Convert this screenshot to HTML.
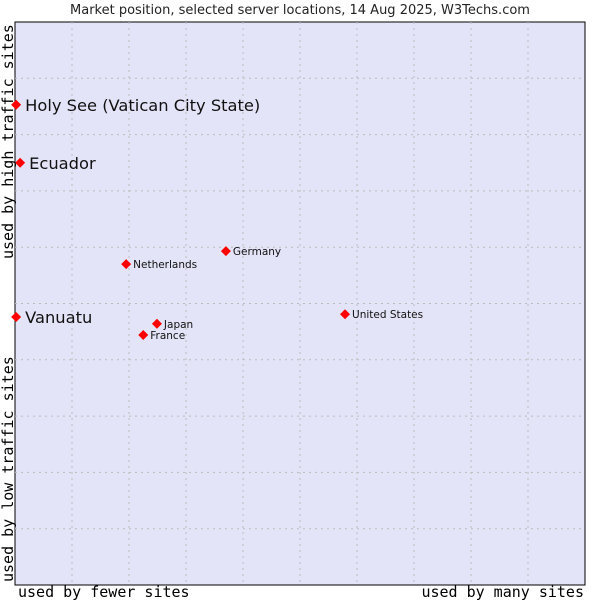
<!DOCTYPE html>
<html><head><meta charset="utf-8"><style>
body{margin:0;background:#fff;}
svg{display:block;font-family:"DejaVu Sans","Liberation Sans",sans-serif;}
</style></head><body>
<svg id="chart" width="600" height="600">
<text x="300" y="14" text-anchor="middle" font-size="13" fill="#222">Market position, selected server locations, 14 Aug 2025, W3Techs.com</text>
<rect x="15" y="22" width="570" height="563" fill="#e4e4f8" stroke="#000" stroke-width="1"/>
<g id="grid"></g>
<g id="points"></g>
<text x="18" y="597" font-family="DejaVu Sans Mono,Liberation Mono,monospace" font-size="15" fill="#000">used by fewer sites</text>
<text x="584" y="597" text-anchor="end" font-family="DejaVu Sans Mono,Liberation Mono,monospace" font-size="15" fill="#000">used by many sites</text>
<text transform="translate(13,582) rotate(-90)" font-family="DejaVu Sans Mono,Liberation Mono,monospace" font-size="15" fill="#000">used by low traffic sites</text>
<text transform="translate(13,259) rotate(-90)" font-family="DejaVu Sans Mono,Liberation Mono,monospace" font-size="15" fill="#000">used by high traffic sites</text>
</svg>
<script>
const names=["Holy See (Vatican City State)","Ecuador","Vanuatu","Netherlands","Germany","Japan","France","United States"];
const xVals=[0.2,0.9,0.2,19.5,37.0,24.9,22.5,57.9];
const yVals=[85.3,75.0,47.6,57.0,59.3,46.4,44.4,48.1];
const big=[true,true,true,false,false,false,false,false];
const L=15,T=22,W=570,H=563;
const xs=v=>L+v/100*W, ys=v=>T+H-v/100*H;
const ns="http://www.w3.org/2000/svg";
const grid=document.getElementById('grid');
for(let i=1;i<10;i++){
 const a=document.createElementNS(ns,'line');
 
 
 a.setAttribute('x1',xs(i*10));a.setAttribute('x2',xs(i*10));a.setAttribute('y1',T);a.setAttribute('y2',T+H);
 a.setAttribute('stroke','#bbb');a.setAttribute('stroke-dasharray','2,4');grid.appendChild(a);
 const b=document.createElementNS(ns,'line');
 
 
 b.setAttribute('y1',ys(i*10));b.setAttribute('y2',ys(i*10));b.setAttribute('x1',L);b.setAttribute('x2',L+W);
 b.setAttribute('stroke','#bbb');b.setAttribute('stroke-dasharray','2,4');grid.appendChild(b);
}
const pts=document.getElementById('points');
names.forEach((n,i)=>{
 const x=xs(xVals[i]),y=ys(yVals[i]);
 const g=document.createElementNS(ns,'g');
 
 
 const d=document.createElementNS(ns,'path');
 d.setAttribute('d',`M${x-5} ${y}L${x} ${y-5}L${x+5} ${y}L${x} ${y+5}Z`);
 d.setAttribute('fill','#f00');g.appendChild(d);
 const t=document.createElementNS(ns,'text');
 t.setAttribute('x',x+(big[i]?9:7));t.setAttribute('y',y+(big[i]?6:4));
 t.setAttribute('font-size',big[i]?16.3:10.5);t.setAttribute('fill','#111');
 t.textContent=n;g.appendChild(t);
 pts.appendChild(g);
});
</script>
</body></html>
